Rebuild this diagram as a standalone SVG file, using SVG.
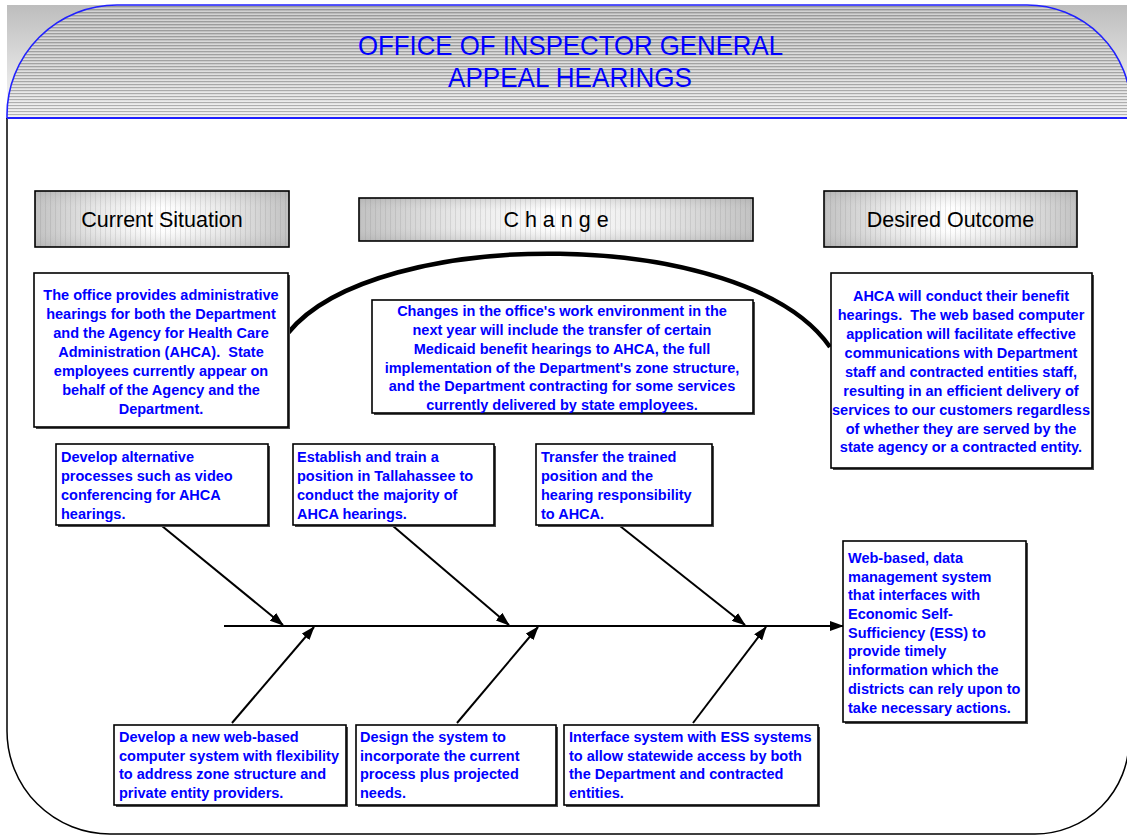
<svg xmlns="http://www.w3.org/2000/svg" width="1127" height="835" viewBox="0 0 1127 835">
<defs>
<style>
.t{font-family:"Liberation Sans",Arial,sans-serif;font-weight:bold;font-size:14.5px;fill:#0000ff}
.c{text-anchor:middle}
.h{font-family:"Liberation Sans",Arial,sans-serif;font-size:21.5px;fill:#000;text-anchor:middle}
.title{font-family:"Liberation Sans",Arial,sans-serif;font-size:27.5px;fill:#0000ff;text-anchor:middle}
.box{fill:#fff;stroke:#000;stroke-width:1.6}
.sh{fill:#4a4a4a}
.hb{stroke:#000;stroke-width:1.6}
.ln{stroke:#000;stroke-width:2;fill:none}
.arc{stroke:#000;stroke-width:4.5;fill:none}
</style>
<linearGradient id="bgG" x1="0" y1="0" x2="0" y2="1">
<stop offset="0" stop-color="#bdbdbd"/><stop offset="1" stop-color="#fbfbfb"/>
</linearGradient>
<linearGradient id="hdG" x1="0" y1="0" x2="0" y2="1">
<stop offset="0" stop-color="#b8b8b8"/><stop offset="0.6" stop-color="#cfcfcf"/><stop offset="1" stop-color="#ececec"/>
</linearGradient>
<pattern id="hStripe" width="8" height="3" patternUnits="userSpaceOnUse">
<rect x="0" y="0" width="8" height="1" fill="#7a7a7a" fill-opacity="0.5"/>
<rect x="0" y="2" width="8" height="1" fill="#ffffff" fill-opacity="0.35"/>
</pattern>
<linearGradient id="boxH" x1="0" y1="0" x2="1" y2="0">
<stop offset="0" stop-color="#c2c2c2"/><stop offset="0.25" stop-color="#e8e8e8"/><stop offset="0.5" stop-color="#ffffff"/><stop offset="0.75" stop-color="#e8e8e8"/><stop offset="1" stop-color="#c2c2c2"/>
</linearGradient>
<linearGradient id="boxV" x1="0" y1="0" x2="0" y2="1">
<stop offset="0" stop-color="#909090" stop-opacity="0.28"/><stop offset="0.3" stop-color="#bdbdbd" stop-opacity="0"/><stop offset="0.7" stop-color="#bdbdbd" stop-opacity="0"/><stop offset="1" stop-color="#909090" stop-opacity="0.28"/>
</linearGradient>
<pattern id="vStripe" width="5" height="10" patternUnits="userSpaceOnUse">
<rect x="0" y="0" width="1" height="10" fill="#7a7a7a" fill-opacity="0.18"/>
</pattern>
<marker id="arr" viewBox="0 0 14 10" refX="13" refY="5" markerWidth="14" markerHeight="10" markerUnits="userSpaceOnUse" orient="auto">
<path d="M0,0 L14,5 L0,10 Z" fill="#000"/>
</marker>
</defs>

<g id="frame">
<rect x="7" y="5" width="1122" height="113" fill="url(#bgG)"/>
<path d="M7,118 V115 A110,110 0 0 1 117,5 H1027 A104,104 0 0 1 1131,109 V118 Z" fill="url(#hdG)"/>
<path d="M7,118 V115 A110,110 0 0 1 117,5 H1027 A104,104 0 0 1 1131,109 V118 Z" fill="url(#hStripe)" stroke="#2020ff" stroke-width="1.6"/>
<path d="M7,118 V731 A103,103 0 0 0 110,834 H1035 A94,94 0 0 0 1129,740" fill="none" stroke="#000" stroke-width="1.5"/>
<line x1="7" y1="118" x2="1127" y2="118" stroke="#2020ff" stroke-width="2"/>
<text class="title" x="570.5" y="55" textLength="425" lengthAdjust="spacingAndGlyphs">OFFICE OF INSPECTOR GENERAL</text>
<text class="title" x="570" y="87" textLength="244" lengthAdjust="spacingAndGlyphs">APPEAL HEARINGS</text>
</g>

<g id="hdr-current">
<rect x="35" y="191" width="254" height="56" fill="url(#boxH)"/>
<rect x="35" y="191" width="254" height="56" fill="url(#vStripe)"/>
<rect x="35" y="191" width="254" height="56" fill="url(#boxV)" class="hb"/>
<text class="h" x="162" y="227">Current Situation</text>
</g>
<g id="hdr-change">
<rect x="359" y="198" width="394" height="43" fill="url(#boxH)"/>
<rect x="359" y="198" width="394" height="43" fill="url(#vStripe)"/>
<rect x="359" y="198" width="394" height="43" fill="url(#boxV)" class="hb"/>
<text class="h" x="556" y="227" xml:space="preserve">C h a n g e</text>
</g>
<g id="hdr-desired">
<rect x="824" y="191" width="253" height="56" fill="url(#boxH)"/>
<rect x="824" y="191" width="253" height="56" fill="url(#vStripe)"/>
<rect x="824" y="191" width="253" height="56" fill="url(#boxV)" class="hb"/>
<text class="h" x="950.5" y="227">Desired Outcome</text>
</g>

<g id="connectors">
<path class="arc" d="M288,333 C375,225 745,225 830,347"/>
<line class="ln" x1="224" y1="626" x2="843" y2="626" marker-end="url(#arr)"/>
<line class="ln" x1="162" y1="526" x2="283" y2="625" marker-end="url(#arr)"/>
<line class="ln" x1="393" y1="526" x2="509" y2="625" marker-end="url(#arr)"/>
<line class="ln" x1="620" y1="526" x2="745" y2="625" marker-end="url(#arr)"/>
<line class="ln" x1="232" y1="723" x2="314" y2="627" marker-end="url(#arr)"/>
<line class="ln" x1="457" y1="723" x2="538" y2="627" marker-end="url(#arr)"/>
<line class="ln" x1="693" y1="723" x2="766" y2="627" marker-end="url(#arr)"/>
</g>

<g id="current">
<rect class="sh" x="36" y="275" width="254" height="154"/>
<rect class="box" x="34" y="273" width="254" height="154"/>
<text class="t c" x="161" y="300">The office provides administrative</text>
<text class="t c" x="161" y="319">hearings for both the Department</text>
<text class="t c" x="161" y="338">and the Agency for Health Care</text>
<text class="t c" x="161" y="357" xml:space="preserve">Administration (AHCA).  State</text>
<text class="t c" x="161" y="376">employees currently appear on</text>
<text class="t c" x="161" y="395">behalf of the Agency and the</text>
<text class="t c" x="161" y="414">Department.</text>
</g>

<g id="change">
<rect class="sh" x="374" y="302" width="381" height="113"/>
<rect class="box" x="372" y="300" width="381" height="113"/>
<text class="t c" x="562" y="316">Changes in the office's work environment in the</text>
<text class="t c" x="562" y="335">next year will include the transfer of certain</text>
<text class="t c" x="562" y="354">Medicaid benefit hearings to AHCA, the full</text>
<text class="t c" x="562" y="373">implementation of the Department's zone structure,</text>
<text class="t c" x="562" y="391">and the Department contracting for some services</text>
<text class="t c" x="562" y="410">currently delivered by state employees.</text>
</g>

<g id="desired">
<rect class="sh" x="833" y="275" width="261" height="195"/>
<rect class="box" x="831" y="273" width="261" height="195"/>
<text class="t c" x="961" y="301">AHCA will conduct their benefit</text>
<text class="t c" x="961" y="320" xml:space="preserve">hearings.  The web based computer</text>
<text class="t c" x="961" y="339">application will facilitate effective</text>
<text class="t c" x="961" y="358">communications with Department</text>
<text class="t c" x="961" y="377">staff and contracted entities staff,</text>
<text class="t c" x="961" y="396">resulting in an efficient delivery of</text>
<text class="t c" x="961" y="415">services to our customers regardless</text>
<text class="t c" x="961" y="434">of whether they are served by the</text>
<text class="t c" x="961" y="452">state agency or a contracted entity.</text>
</g>

<g id="top1">
<rect class="sh" x="58" y="446" width="212" height="81"/>
<rect class="box" x="56" y="444" width="212" height="81"/>
<text class="t" x="61" y="462">Develop alternative</text>
<text class="t" x="61" y="481">processes such as video</text>
<text class="t" x="61" y="500">conferencing for AHCA</text>
<text class="t" x="61" y="519">hearings.</text>
</g>

<g id="top2">
<rect class="sh" x="295" y="446" width="201" height="81"/>
<rect class="box" x="293" y="444" width="201" height="81"/>
<text class="t" x="297" y="462">Establish and train a</text>
<text class="t" x="297" y="481">position in Tallahassee to</text>
<text class="t" x="297" y="500">conduct the majority of</text>
<text class="t" x="297" y="519">AHCA hearings.</text>
</g>

<g id="top3">
<rect class="sh" x="538" y="446" width="176" height="81"/>
<rect class="box" x="536" y="444" width="176" height="81"/>
<text class="t" x="541" y="462">Transfer the trained</text>
<text class="t" x="541" y="481">position and the</text>
<text class="t" x="541" y="500">hearing responsibility</text>
<text class="t" x="541" y="519">to AHCA.</text>
</g>

<g id="result">
<rect class="sh" x="845" y="543" width="183" height="181"/>
<rect class="box" x="843" y="541" width="183" height="181"/>
<text class="t" x="848" y="563">Web-based, data</text>
<text class="t" x="848" y="582">management system</text>
<text class="t" x="848" y="600">that interfaces with</text>
<text class="t" x="848" y="619">Economic Self-</text>
<text class="t" x="848" y="638">Sufficiency (ESS) to</text>
<text class="t" x="848" y="656">provide timely</text>
<text class="t" x="848" y="675">information which the</text>
<text class="t" x="848" y="694">districts can rely upon to</text>
<text class="t" x="848" y="713">take necessary actions.</text>
</g>

<g id="bottom1">
<rect class="sh" x="116" y="727" width="232" height="80"/>
<rect class="box" x="114" y="725" width="232" height="80"/>
<text class="t" x="119" y="742">Develop a new web-based</text>
<text class="t" x="119" y="761">computer system with flexibility</text>
<text class="t" x="119" y="779">to address zone structure and</text>
<text class="t" x="119" y="798">private entity providers.</text>
</g>

<g id="bottom2">
<rect class="sh" x="358" y="727" width="200" height="80"/>
<rect class="box" x="356" y="725" width="200" height="80"/>
<text class="t" x="360" y="742">Design the system to</text>
<text class="t" x="360" y="761">incorporate the current</text>
<text class="t" x="360" y="779">process plus projected</text>
<text class="t" x="360" y="798">needs.</text>
</g>

<g id="bottom3">
<rect class="sh" x="566" y="727" width="254" height="80"/>
<rect class="box" x="564" y="725" width="254" height="80"/>
<text class="t" x="569" y="742">Interface system with ESS systems</text>
<text class="t" x="569" y="761">to allow statewide access by both</text>
<text class="t" x="569" y="779">the Department and contracted</text>
<text class="t" x="569" y="798">entities.</text>
</g>
</svg>
